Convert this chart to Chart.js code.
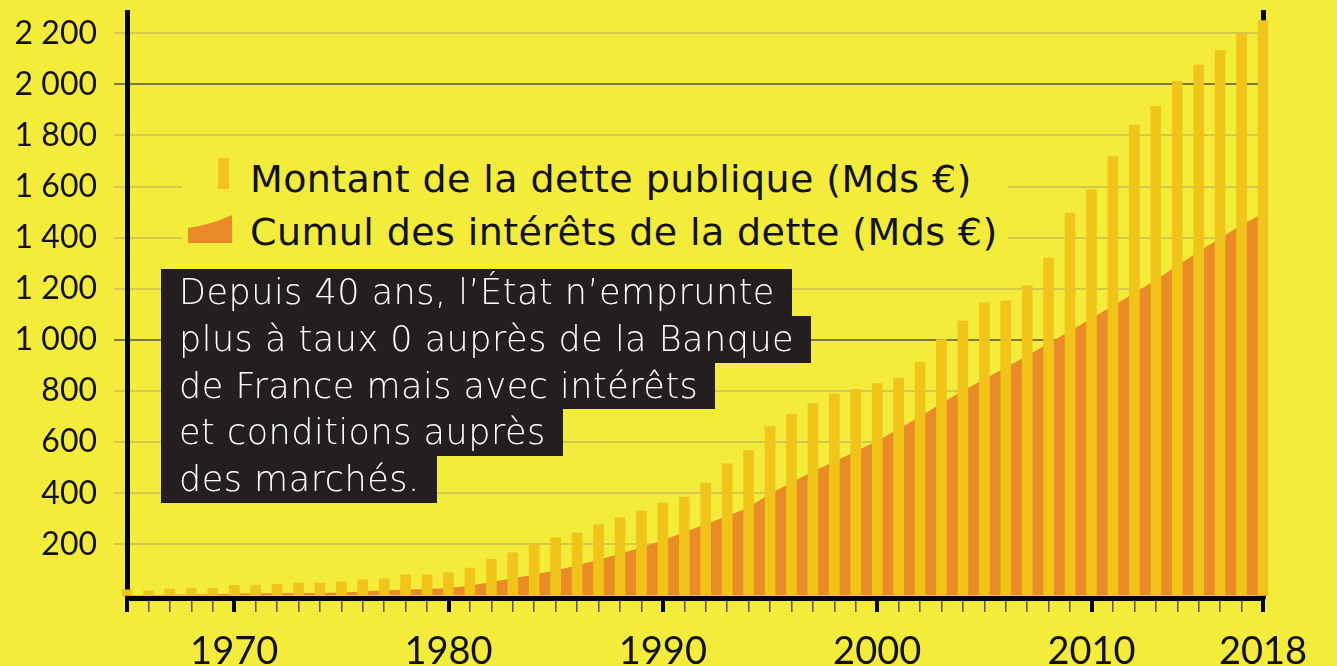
<!DOCTYPE html>
<html lang="fr">
<head>
<meta charset="UTF-8">
<title>Dette publique et cumul des intérêts</title>
<script src="https://cdn.jsdelivr.net/npm/chart.js@4.4.0/dist/chart.umd.min.js"></script>
<style>
  body { margin: 0; background: #F3EC3A; overflow: hidden; font-family: Lato, sans-serif; }
  #wrap { position: relative; width: 1337px; height: 666px; }
  .legbg { position: absolute; left: 182px; top: 150px; width: 826px; height: 104px; background: #F3EC3A; }
  .sw1 { position: absolute; left: 218px; top: 158px; width: 11px; height: 31px; background: #F0C419; }
  .sw2 { position: absolute; left: 188px; top: 215px; }
  .leg { position: absolute; left: 250px; font-family: 'DejaVu Sans', sans-serif; font-size: 38px; line-height: 38px; letter-spacing: 0.4px; color: #111; white-space: nowrap; }
  #note { position: absolute; left: 161px; top: 269px; }
  #note div { display: table; background: #231F20; color: #fff; font-family: 'DejaVu Sans', sans-serif; font-weight: 200; font-size: 35px; line-height: 46.8px; letter-spacing: 0.5px; padding: 0 17px 0 18px; white-space: nowrap; }
</style>
</head>
<body>
<div id="wrap">
  <canvas id="debtChart" width="1337" height="666"></canvas>
  <div class="legbg"></div>
  <div class="sw1"></div>
  <svg class="sw2" width="44" height="28"><path d="M0,28 L0,13 Q22,10 44,0 L44,28 Z" fill="#E98B27"/></svg>
  <div class="leg" id="leg1" style="top:160px"></div>
  <div class="leg" id="leg2" style="top:213px"></div>
  <div id="note">
    <div>Depuis 40 ans, l’État n’emprunte</div>
    <div>plus à taux 0 auprès de la Banque</div>
    <div>de France mais avec intérêts</div>
    <div>et conditions auprès</div>
    <div>des marchés.</div>
  </div>
</div>

<script>
    const years = [1965, 1966, 1967, 1968, 1969, 1970, 1971, 1972, 1973, 1974,
        1975, 1976, 1977, 1978, 1979, 1980, 1981, 1982, 1983, 1984,
        1985, 1986, 1987, 1988, 1989, 1990, 1991, 1992, 1993, 1994,
        1995, 1996, 1997, 1998, 1999, 2000, 2001, 2002, 2003, 2004,
        2005, 2006, 2007, 2008, 2009, 2010, 2011, 2012, 2013, 2014,
        2015, 2016, 2017, 2018];
    // Montant de la dette publique (Mds €)
    const debt = [22, 18, 25, 27, 27, 39, 39, 43, 49, 49,
        53, 61, 65, 81, 81, 89, 107, 142, 167, 199,
        225, 245, 277, 304, 330, 362, 385, 440, 515, 567,
        661, 710, 751, 788, 806, 829, 851, 913, 1001, 1074,
        1145, 1153, 1212, 1320, 1496, 1587, 1717, 1841, 1914, 2012,
        2075, 2132, 2197, 2249];
    // Cumul des intérêts de la dette (Mds €)
    const interest = [2, 2, 3, 4, 5, 7, 9, 9, 10, 10,
        12, 15, 19, 22, 25, 29, 38, 53, 67, 82,
        98, 118, 140, 163, 188, 216, 247, 280, 310, 345,
        398, 442, 485, 524, 563, 605, 651, 700, 752, 801,
        847, 893, 938, 987, 1035, 1085, 1134, 1183, 1235, 1290,
        1346, 1398, 1450, 1495];
    const seriesNames = ['Montant de la dette publique (Mds €)', 'Cumul des intérêts de la dette (Mds €)'];
    const yTicks = [200, 400, 600, 800, 1000, 1200, 1400, 1600, 1800, 2000, 2200];
    const xLabels = [1970, 1980, 1990, 2000, 2010, 2018];
    const majorTicks = [1965, 1970, 1980, 1990, 2000, 2010, 2018];

    document.getElementById('leg1').textContent = seriesNames[0];
    document.getElementById('leg2').textContent = seriesNames[1];

    // "2 200" style numbers
    function fmt(v) {
        if (v >= 1000) return Math.floor(v / 1000) + ' ' + String(v % 1000).padStart(3, '0');
        return String(v);
    }

    Chart.defaults.font.family = 'Lato, sans-serif';
    Chart.defaults.color = '#111';

    let ctx = document.getElementById('debtChart').getContext('2d');
    let debtChart = new Chart(ctx, {
        type: 'bar',
        data: {
            datasets: [{
                type: 'bar',
                label: seriesNames[0],
                data: years.map((y, i) => ({x: y, y: debt[i]})),
                backgroundColor: '#F0C419',
                barThickness: 10,
                clip: false,
                order: 0
            }, {
                type: 'line',
                label: seriesNames[1],
                data: years.map((y, i) => ({x: y, y: interest[i]})),
                fill: 'origin',
                backgroundColor: '#E98B27',
                borderWidth: 0,
                pointRadius: 0,
                tension: 0,
                order: 1
            }]
        },
        options: {
            responsive: false,
            animation: false,
            layout: {padding: {left: 0, right: 74, top: 12, bottom: 0}},
            plugins: {legend: {display: false}, tooltip: {enabled: false}},
            scales: {
                x: {
                    type: 'linear',
                    min: 1965,
                    max: 2018,
                    offset: false,
                    afterBuildTicks: s => { s.ticks = years.map(v => ({value: v})); },
                    afterFit: s => { s.height = 68; s.paddingLeft = 0; s.paddingRight = 0; },
                    ticks: {
                        autoSkip: false, maxRotation: 0, minRotation: 0, padding: 17,
                        color: '#111', font: {size: 38},
                        callback: v => xLabels.includes(v) ? String(v) : ''
                    },
                    grid: {
                        offset: false,
                        drawOnChartArea: false,
                        tickLength: 14,
                        color: c => majorTicks.includes(c.tick && c.tick.value) ? '#000' : '#5a5530',
                        lineWidth: c => majorTicks.includes(c.tick && c.tick.value) ? 4 : 1.5
                    },
                    border: {color: '#000', width: 5}
                },
                y: {
                    min: -10,
                    max: 2283,
                    afterBuildTicks: s => { s.ticks = yTicks.map(v => ({value: v})); },
                    afterFit: s => { s.width = 127; s.paddingTop = 0; s.paddingBottom = 0; },
                    ticks: {padding: 17, color: '#111', font: {size: 32}, callback: fmt},
                    grid: {
                        tickLength: 13,
                        lineWidth: 2,
                        color: c => (c.tick && (c.tick.value === 1000 || c.tick.value === 2000)) ? '#7d7a3c' : '#D2C84C'
                    },
                    border: {color: '#000', width: 5}
                },
                y2: {
                    position: 'right',
                    min: 0,
                    max: 1,
                    ticks: {display: false},
                    grid: {display: false},
                    afterFit: s => { s.width = 0; s.paddingTop = 0; s.paddingBottom = 0; },
                    border: {color: '#000', width: 5}
                }
            }
        }
    });
</script>
</body>
</html>
